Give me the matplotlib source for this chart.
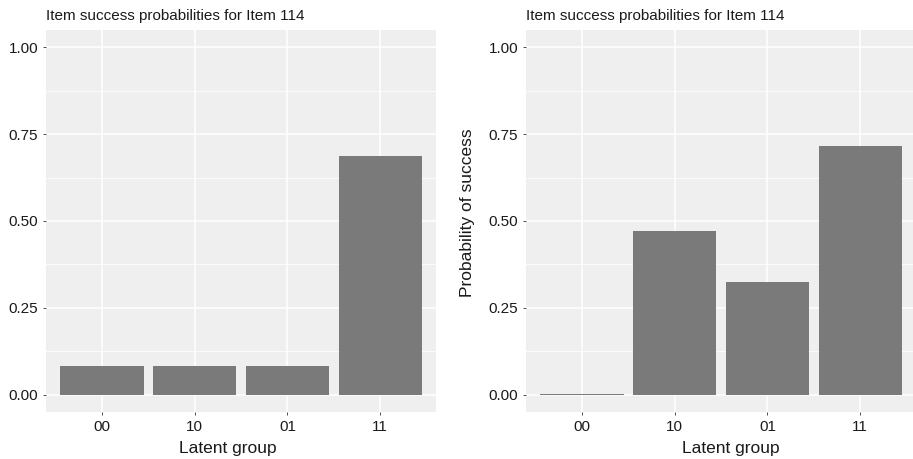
import matplotlib.pyplot as plt
import numpy as np

plt.rcParams['font.family'] = ['Liberation Sans', 'DejaVu Sans']

# data
groups = ['00', '10', '01', '11']
probs_left = [0.082, 0.082, 0.082, 0.686]
probs_right = [0.003, 0.470, 0.324, 0.715]
title = 'Item success probabilities for Item 114'
y_ticks = [0.0, 0.25, 0.5, 0.75, 1.0]
y_minor = [0.125, 0.375, 0.625, 0.875]

panel_bg = '#efefef'
bar_col = '#7a7a7a'
text_col = '#1a1a1a'

fig = plt.figure(figsize=(9.13, 4.59), dpi=100)
ax1 = fig.add_axes([46 / 913, 1 - 412 / 459, 390 / 913, 382 / 459])
ax2 = fig.add_axes([526 / 913, 1 - 412 / 459, 390 / 913, 382 / 459])


def style_panel(ax, vals, xlab_x, ylabel=None):
    x = np.arange(len(groups))
    ax.set_facecolor(panel_bg)
    ax.set_axisbelow(True)
    for v in y_ticks:
        ax.axhline(v, color='white', lw=1.1, zorder=0)
    for v in y_minor:
        ax.axhline(v, color='white', lw=0.55, zorder=0)
    for xi in x:
        ax.axvline(xi, color='white', lw=1.1, zorder=0)
    ax.bar(x, vals, width=0.9, color=bar_col, zorder=2)
    ax.set_xlim(-0.6, 3.6)
    ax.set_ylim(-0.05, 1.05)
    ax.set_xticks(x)
    ax.set_xticklabels(groups)
    ax.set_yticks(y_ticks)
    ax.set_yticklabels(['%.2f' % v for v in y_ticks])
    ax.tick_params(axis='both', length=2.5, width=0.6, color='#333333',
                   labelsize=11, labelcolor=text_col, pad=3)
    for s in ax.spines.values():
        s.set_visible(False)
    ax.set_xlabel('Latent group', fontsize=12.5, color=text_col)
    ax.xaxis.set_label_coords(xlab_x, -0.077)
    if ylabel:
        ax.set_ylabel(ylabel, fontsize=12.5, color=text_col)
        ax.yaxis.set_label_coords(-0.13, 0.521)
    ax.set_title(title, loc='left', fontsize=11, color=text_col, pad=7)


style_panel(ax1, probs_left, 0.467)
style_panel(ax2, probs_right, 0.526, 'Probability of success')

fig.savefig('out.png', dpi=100)
